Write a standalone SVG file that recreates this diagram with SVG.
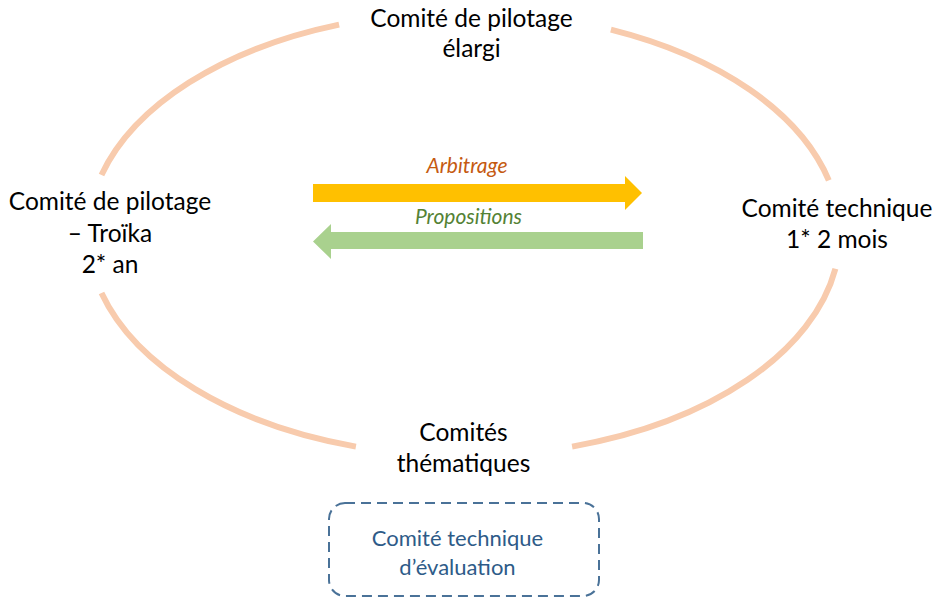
<svg xmlns="http://www.w3.org/2000/svg" width="943" height="598" viewBox="0 0 943 598">
<style>
.lbl{font-family:Lato,"Liberation Sans",sans-serif;font-size:24.5px;fill:#000;text-anchor:middle}
.arrlbl{font-family:Lato,"Liberation Sans",sans-serif;font-size:21px;font-style:italic;text-anchor:middle}
.ring{fill:none;stroke:#F8CBAD;stroke-width:6}
.box{fill:none;stroke:#4A7298;stroke-width:2;stroke-dasharray:10 6}
.boxlbl{font-family:Lato,"Liberation Sans",sans-serif;font-size:22px;fill:#2E5B88;text-anchor:middle}
</style>
<rect width="943" height="598" fill="#fff"/>
<g id="cycle">
<path class="ring" d="M101.5,175 A376,222 0 0 1 339.1,24.6"/>
<path class="ring" d="M610.9,29.6 A376,222 0 0 1 828.8,180.3"/>
<path class="ring" d="M835.4,268.7 A376,222 0 0 1 572.1,446.6"/>
<path class="ring" d="M355.9,446.6 A376,222 0 0 1 101.5,293"/>
</g>
<g id="connectors">
<polygon fill="#FFC000" points="313,184 625,184 625,176 642,193 625,210 625,202 313,202"/>
<polygon fill="#A9D18E" points="643,232 331,232 331,224 313,241.5 331,259 331,249 643,249"/>
<text class="arrlbl" x="467" y="173" fill="#C55A11">Arbitrage</text>
<text class="arrlbl" x="468.5" y="224" fill="#548235">Propositions</text>
</g>
<g id="node-top">
<text class="lbl" x="471.5" y="27">Comité de pilotage</text>
<text class="lbl" x="471.5" y="57">élargi</text>
</g>
<g id="node-left">
<text class="lbl" x="110" y="210">Comité de pilotage</text>
<text class="lbl" x="110" y="242">– Troïka</text>
<text class="lbl" x="110" y="273">2* an</text>
</g>
<g id="node-right">
<text class="lbl" x="837" y="217">Comité technique</text>
<text class="lbl" x="837" y="248">1* 2 mois</text>
</g>
<g id="node-bottom">
<text class="lbl" x="463.5" y="441">Comités</text>
<text class="lbl" x="463.5" y="472">thématiques</text>
</g>
<g id="node-eval">
<rect class="box" x="329" y="503" width="270" height="93" rx="16"/>
<text class="boxlbl" x="457.5" y="546">Comité technique</text>
<text class="boxlbl" x="457.5" y="575">d’évaluation</text>
</g>
</svg>
